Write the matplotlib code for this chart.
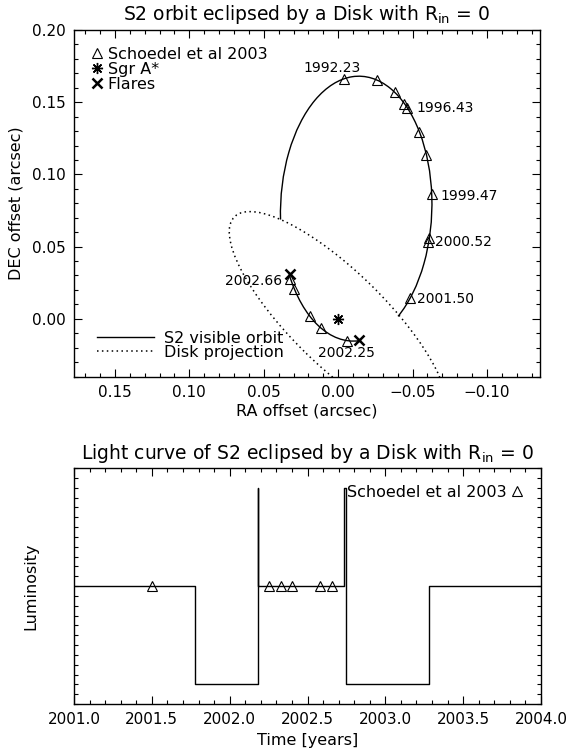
import numpy as np
import matplotlib
matplotlib.use("Agg")
import matplotlib.pyplot as plt
from matplotlib.patches import Arc, Ellipse
from matplotlib.lines import Line2D
from matplotlib.ticker import MultipleLocator, NullLocator, NullFormatter, FormatStrFormatter

# ---------------- data ----------------
# Schoedel et al 2003 S2 positions
epochs = [1992.23, 1994.32, 1995.53, 1996.25, 1996.43, 1997.54, 1998.36, 1999.47,
          2000.47, 2000.52, 2001.50, 2002.25, 2002.33, 2002.40, 2002.58, 2002.66]
ra_off = [-0.0036, -0.0264, -0.0383, -0.0445, -0.0463, -0.0546, -0.0593, -0.0629,
          -0.0613, -0.0606, -0.0483, -0.0058, 0.0116, 0.0188, 0.0295, 0.0322]
dec_off = [0.1660, 0.1654, 0.1570, 0.1486, 0.1462, 0.1293, 0.1134, 0.0861,
           0.0560, 0.0530, 0.0144, -0.0153, -0.0062, 0.0016, 0.0206, 0.0278]
labelled_epochs = ["1992.23", "1996.43", "1999.47", "2000.52", "2001.50", "2002.25", "2002.66"]

sgra_ra, sgra_dec = [0.0], [0.0]
flare_ra = [0.0327, -0.0141]
flare_dec = [0.0310, -0.0148]

# S2 orbit ellipse (center RA/DEC, semi-axes, angle in degrees)
orbit_center = (-0.01210, 0.07628)
orbit_axes = (0.09175, 0.05084)
orbit_angle = -88.36
orbit_visible_arcs = [(79.9, 337.7), (-2.9, 43.05)]

# disk projection ellipse centred on Sgr A*
disk_center = (0.0, 0.0)
disk_axes = (0.0992, 0.0321)
disk_angle = 45.52

# light curve
lc_time = [2001.0, 2001.777, 2002.180, 2002.185, 2002.732, 2002.745, 2003.278, 2004.0]
lc_lum = [1, 0, 2, 1, 2, 0, 1, 1]

# ---------------- style ----------------
plt.rcParams['font.family'] = ['DejaVu Sans']
plt.rcParams['mathtext.default'] = 'regular'
FS = 11
LFS = 11.5
TFS = 13.5

fig = plt.figure(figsize=(5.7, 7.51), dpi=100)
ax1 = fig.add_axes([74/570, 1-377/751, (540-74)/570, (377-30)/751])
ax2 = fig.add_axes([74/570, 1-704/751, (541-74)/570, (704-468)/751])

for ax in (ax1, ax2):
    for s in ax.spines.values():
        s.set_linewidth(1.0)
    ax.tick_params(which='both', direction='in', top=True, right=True, labelsize=FS, width=0.8)
    ax.tick_params(which='major', length=5.5, pad=6)
    ax.tick_params(which='minor', length=2.8)

# ---------------- top panel ----------------
ax1.set_xlim(0.1775, -0.1356)
ax1.set_ylim(-0.0403, 0.2)
ax1.xaxis.set_major_locator(MultipleLocator(0.05))
ax1.xaxis.set_minor_locator(MultipleLocator(0.01))
ax1.yaxis.set_major_locator(MultipleLocator(0.05))
ax1.yaxis.set_minor_locator(MultipleLocator(0.01))
ax1.yaxis.set_major_formatter(FormatStrFormatter('%.2f'))
ax1.set_xticks([0.15, 0.10, 0.05, 0.0, -0.05, -0.10])
ax1.set_xticklabels(['0.15', '0.10', '0.05', '0.00', '\u22120.05', '\u22120.10'])

for t1, t2 in orbit_visible_arcs:
    ax1.add_patch(Arc(orbit_center, 2*orbit_axes[0], 2*orbit_axes[1], angle=orbit_angle,
                      theta1=t1, theta2=t2, color='black', lw=1.0))
ax1.add_patch(Ellipse(disk_center, 2*disk_axes[0], 2*disk_axes[1], angle=disk_angle,
                      fill=False, color='black', lw=1.1, linestyle=(0, (1, 2.2))))

ax1.plot(ra_off, dec_off, linestyle='none', marker='^', ms=7, mfc='none', mec='black', mew=0.8)
ax1.plot(sgra_ra, sgra_dec, linestyle='none', marker=(8, 2, 0), ms=8, mec='black', mew=1.0)
ax1.plot(flare_ra, flare_dec, linestyle='none', marker='x', ms=7, mec='black', mew=1.8)

label_offsets = {"1992.23": (-8.4, 7.7, 'center'), "1996.43": (6.5, 0, 'left'),
                 "1999.47": (6, -1.2, 'left'), "2000.52": (4.8, 0, 'left'),
                 "2001.50": (4.8, -0.7, 'left'), "2002.25": (0, -8.4, 'center'),
                 "2002.66": (-6, -1.4, 'right')}
for lab in labelled_epochs:
    i = epochs.index(float(lab))
    dxo, dyo, ha = label_offsets[lab]
    ax1.annotate(lab, (ra_off[i], dec_off[i]), xytext=(dxo, dyo), textcoords='offset points',
                 ha=ha, va='center', fontsize=10)

ax1.set_title('S2 orbit eclipsed by a Disk with R$_{in}$ = 0', fontsize=TFS, pad=7.5)
ax1.set_xlabel('RA offset (arcsec)', fontsize=LFS, labelpad=2)
ax1.set_ylabel('DEC offset (arcsec)', fontsize=LFS, labelpad=6)

h1 = [Line2D([], [], linestyle='none', marker='^', ms=7, mfc='none', mec='black', mew=0.8),
      Line2D([], [], linestyle='none', marker=(8, 2, 0), ms=8, mec='black', mew=1.0),
      Line2D([], [], linestyle='none', marker='x', ms=7, mec='black', mew=1.8)]
leg1 = ax1.legend(h1, ['Schoedel et al 2003', 'Sgr A*', 'Flares'], loc='upper left',
                  bbox_to_anchor=(16/466, 1-17/347), frameon=False,
                  fontsize=LFS, handlelength=0.9, handletextpad=0.2, labelspacing=0.0,
                  borderaxespad=0, borderpad=0)
ax1.add_artist(leg1)
h2 = [Line2D([], [], color='black', lw=1.0),
      Line2D([], [], color='black', lw=1.1, linestyle=(0, (1, 2.2)))]
ax1.legend(h2, ['S2 visible orbit', 'Disk projection'], loc='lower left',
           bbox_to_anchor=(23/466, 17/347), frameon=False,
           fontsize=LFS, handlelength=3.57, handletextpad=0.63, labelspacing=-0.05,
           borderaxespad=0, borderpad=0)

# ---------------- bottom panel ----------------
ax2.set_xlim(2001.0, 2004.0)
ax2.set_ylim(-0.2, 2.2)
ax2.xaxis.set_major_locator(MultipleLocator(0.5))
ax2.xaxis.set_minor_locator(MultipleLocator(0.1))
ax2.xaxis.set_major_formatter(FormatStrFormatter('%.1f'))
ax2.yaxis.set_major_locator(NullLocator())
ax2.yaxis.set_minor_locator(MultipleLocator(0.1))
ax2.yaxis.set_minor_formatter(NullFormatter())

ax2.step(lc_time, lc_lum, where='post', color='black', lw=1.0)
lc_epochs = [e for e in epochs if lc_time[0] <= e <= lc_time[-1]]
ax2.plot(lc_epochs, [1]*len(lc_epochs), linestyle='none', marker='^', ms=6.5, mfc='none',
         mec='black', mew=0.8, label='Schoedel et al 2003')
ax2.legend(loc='upper right', bbox_to_anchor=(1-17.6/467, 1-17/236), frameon=False,
           fontsize=LFS, markerfirst=False, handlelength=0.8, handletextpad=0.22,
           borderaxespad=0, borderpad=0)

ax2.set_title('Light curve of S2 eclipsed by a Disk with R$_{in}$ = 0', fontsize=TFS, pad=6.5)
ax2.set_xlabel('Time [years]', fontsize=LFS, labelpad=4)
ax2.set_ylabel('Luminosity', fontsize=LFS, labelpad=22)

fig.savefig('out.png', dpi=100)
